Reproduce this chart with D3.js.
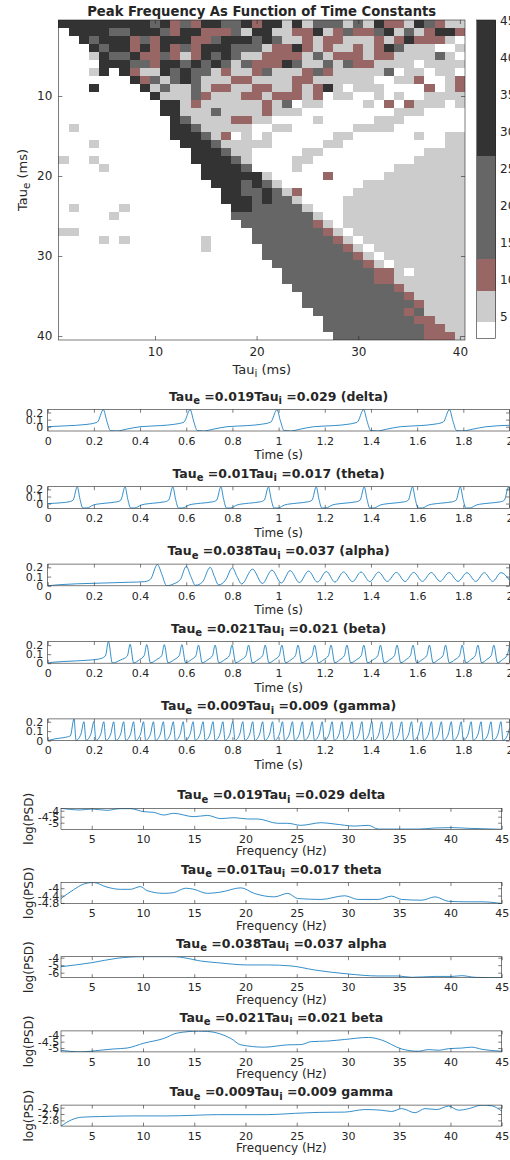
<!DOCTYPE html>
<html>
<head>
<meta charset="utf-8">
<script src="https://cdn.jsdelivr.net/npm/d3@7/dist/d3.min.js"></script>
<style>
  body { margin: 0; background: #fff; }
  svg text { font-family: "DejaVu Sans", sans-serif; fill: #262626; white-space: pre; }
</style>
</head>
<body>
<svg id="fig" width="510" height="1160"></svg>
<script>
// peak frequency band for each (tau_e row, tau_i column), 1..40 ms
// . = white (<4 Hz), l = light, r = red, m = mid grey, d = dark
// left part is columns 1-19, right part columns 20-40
var heatRows = [
  "dddddddddmdrmrddmmd" + "rddldlmmmlmldrrldmrll",
  ".ddddmmdddmrddrrrml" + "ddllrrdlrmrrmdlmlrddr",
  "..dmdddrmrdddrrmddd" + "mdmllrlrrlllrlrdrrrl.",
  "...dmddrdrdrmrdddmm" + "mlrrdrlrllrlrdmlll..l",
  "...ldmmdrrmrlrdmdml" + "lrrrrlmlrrrlrrllllml.",
  "....dddmmrddmdmdmlm" + "rrrdmllmlmrrllll.llll",
  "...ld.drlldmdmmlrll" + "rmlllrmrlllllm.ll.ll.",
  ".......drmlmdmlllrr" + "llllrrllllll..llr..lr",
  "...d....dlmllmlrrll" + "rrllrlrdl.lll....r.lr",
  ".........dlllmrlllr" + "rlrrrlr.ll..l.l..llll",
  "..........ddlrlllll" + "lrlm.ll....l.r.rlll.l",
  "..........ddlllmlll" + "lrlll.........lll....",
  "...........dmllllrr" + "ll....l.....lll......",
  ".l.........ddmlllll" + "..ll......llll.......",
  "...........dddmlr.l" + ".l......ll......l..ll",
  "...l........dddmlll" + "ll.....ll..........ll",
  ".............dddmll" + ".....ll..........llll",
  "l..l.........ddddml" + "....ll..........lllll",
  "....l.........ddddm" + "....l.........lllllll",
  "..............ddddd" + "dl.....r.....llllllll",
  "...............dddm" + "dml........llllllllll",
  "................ddm" + "mdmlr.....lllllllllll",
  "................ddd" + "mdmml....llllllllllll",
  ".l....l..........dd" + "mmmmml...llllllllllll",
  ".....l...........mm" + "mmmmmml..llllllllllll",
  "..................m" + "mmmmmmrl.llllllllllll",
  "ll................." + "mmmmmmmrl.lllllllllll",
  "....l.l.......l...." + "mmmmmmmmrl.llllllllll",
  "..............l...." + ".mmmmmmmmrl.lllllllll",
  "..................." + ".mmmmmmmmmrl.llllllll",
  "..................." + "..mmmmmmmmmrl.lllllll",
  "..................." + "...mmmmmmmmmrrl.lllll",
  "..................." + "...mmmmmmmmmrrlllllll",
  "..................." + "....mmmmmmmmmmrllllll",
  "..................." + ".....mmmmmmmmmmrlllll",
  "..................." + ".....mmmmmmmmmmmrllll",
  "..................." + "......mmmmmmmmmrmllll",
  "..................." + ".......mmmmmmmmmrrlll",
  "..................." + ".......mmmmmmmmmmrrll",
  "..................." + "........mmmmmmmmmrrrl"
];
var bandCodes = ".lrmd";
var bandColors = ["#ffffff", "#cccccc", "#996666", "#666666", "#333333"];
var bandEdges = [2.1, 4.3, 8.5, 12.8, 26.7, 45.1];
var heatTicks = [10, 20, 30, 40];
var cbarTicks = [5, 10, 15, 20, 25, 30, 35, 40, 45];

// example simulations
var bandNames = ["delta", "theta", "alpha", "beta", "gamma"];
var tauE = ["0.019", "0.01", "0.038", "0.021", "0.009"];
var tauI = ["0.029", "0.017", "0.037", "0.021", "0.009"];
var timeTicks = [0, 0.2, 0.4, 0.6, 0.8, 1, 1.2, 1.4, 1.6, 1.8, 2];
var traceTicks = [0, 0.1, 0.2];
var traceYDomains = [[-0.06, 0.245], [-0.068, 0.238], [0, 0.235], [0, 0.24], [0, 0.23]];

var deltaTrace = [[0,0],[0.08,0.013],[0.17,0.033],[0.215,0.065],[0.241,0.24],[0.256,0.08],[0.272,-0.055],[0.3,-0.06],[0.34,-0.035],[0.4,0],
  [0.49,0.016],[0.55,0.035],[0.59,0.065],[0.617,0.24],[0.632,0.08],[0.648,-0.055],[0.676,-0.06],[0.716,-0.035],[0.776,0],
  [0.866,0.016],[0.926,0.035],[0.966,0.065],[0.993,0.24],[1.008,0.08],[1.024,-0.055],[1.052,-0.06],[1.092,-0.035],[1.152,0],
  [1.241,0.016],[1.301,0.035],[1.341,0.065],[1.368,0.24],[1.383,0.08],[1.399,-0.055],[1.427,-0.06],[1.467,-0.035],[1.527,0],
  [1.613,0.016],[1.673,0.035],[1.713,0.065],[1.74,0.24],[1.755,0.08],[1.771,-0.055],[1.799,-0.06],[1.839,-0.035],[1.899,0],[2,0.02]];

var thetaTrace = [[0,0],[0.06,0.012],[0.093,0.025],[0.11,0.05],[0.128,0.235],[0.14,0.06],[0.152,-0.062],[0.17,-0.062],[0.198,-0.02],[0.248,0.005],
  [0.3,0.025],[0.317,0.05],[0.335,0.235],[0.347,0.06],[0.359,-0.062],[0.377,-0.062],[0.405,-0.02],[0.455,0.005],
  [0.507,0.025],[0.524,0.05],[0.542,0.235],[0.554,0.06],[0.566,-0.062],[0.584,-0.062],[0.612,-0.02],[0.662,0.005],
  [0.715,0.025],[0.732,0.05],[0.75,0.235],[0.762,0.06],[0.774,-0.062],[0.792,-0.062],[0.82,-0.02],[0.87,0.005],
  [0.921,0.025],[0.938,0.05],[0.956,0.235],[0.968,0.06],[0.98,-0.062],[0.998,-0.062],[1.026,-0.02],[1.076,0.005],
  [1.128,0.025],[1.145,0.05],[1.163,0.235],[1.175,0.06],[1.187,-0.062],[1.205,-0.062],[1.233,-0.02],[1.283,0.005],
  [1.336,0.025],[1.353,0.05],[1.371,0.235],[1.383,0.06],[1.395,-0.062],[1.413,-0.062],[1.441,-0.02],[1.491,0.005],
  [1.545,0.025],[1.562,0.05],[1.58,0.235],[1.592,0.06],[1.604,-0.062],[1.622,-0.062],[1.65,-0.02],[1.7,0.005],
  [1.752,0.025],[1.769,0.05],[1.787,0.235],[1.799,0.06],[1.811,-0.062],[1.829,-0.062],[1.857,-0.02],[1.907,0.005],
  [1.961,0.025],[1.978,0.05],[1.996,0.235],[2,0.18]];

var alphaTrace = [[0,0],[0.05,0.012],[0.2,0.027],[0.35,0.038],[0.42,0.045],[0.445,0.07],[0.475,0.23],[0.495,0.12],[0.515,0],
  [0.545,0.02],[0.575,0.07],[0.6,0.21],[0.62,0.1],[0.64,0.005],[0.67,0.04],[0.704,0.2],[0.722,0.1],[0.74,0.01],
  [0.77,0.06],[0.8,0.195],[0.82,0.1],[0.84,0.02],[0.887,0.18],[0.93,0.025],[0.971,0.17],[1.012,0.03],[1.05,0.165],
  [1.09,0.035],[1.13,0.16],[1.168,0.04],[1.207,0.155],[1.244,0.04],[1.281,0.15],[1.32,0.045],[1.357,0.15],[1.395,0.045],
  [1.433,0.148],[1.471,0.047],[1.51,0.145],[1.548,0.047],[1.585,0.145],[1.623,0.048],[1.661,0.143],[1.7,0.048],
  [1.738,0.143],[1.777,0.048],[1.816,0.142],[1.854,0.048],[1.891,0.142],[1.927,0.048],[1.963,0.142],[2,0.06]];

var betaTrace = [[0,0],[0.02,0.01],[0.12,0.025],[0.22,0.045],[0.25,0.08],[0.263,0.24],[0.28,0.002],[0.315,0.035],[0.345,0.08],[0.357,0.21],
  [0.372,0.003],[0.398,0.04],[0.418,0.085],[0.429,0.205],[0.445,0.004],[0.472,0.04],[0.494,0.085],[0.505,0.205],[0.521,0.004],
  [0.548,0.04],[0.57,0.085],[0.581,0.205],[0.597,0.005],[0.622,0.04],[0.642,0.085],[0.653,0.2],[0.669,0.005],[0.694,0.04],
  [0.714,0.085],[0.725,0.2],[0.741,0.005],[0.767,0.04],[0.787,0.085],[0.798,0.2],[0.814,0.005],[0.839,0.04],[0.859,0.085],
  [0.87,0.2],[0.886,0.005],[0.911,0.04],[0.931,0.085],[0.942,0.2],[0.958,0.005],[0.983,0.04],[1.003,0.085],[1.014,0.2],
  [1.03,0.005],[1.054,0.04],[1.073,0.085],[1.084,0.2],[1.1,0.005],[1.125,0.04],[1.145,0.085],[1.156,0.2],[1.172,0.005],
  [1.196,0.04],[1.216,0.085],[1.227,0.2],[1.243,0.005],[1.266,0.04],[1.285,0.085],[1.296,0.2],[1.312,0.005],[1.338,0.04],
  [1.358,0.085],[1.369,0.2],[1.385,0.005],[1.41,0.04],[1.43,0.085],[1.441,0.2],[1.457,0.005],[1.482,0.04],[1.502,0.085],
  [1.513,0.2],[1.529,0.005],[1.552,0.04],[1.571,0.085],[1.582,0.2],[1.598,0.005],[1.622,0.04],[1.642,0.085],[1.653,0.2],
  [1.669,0.005],[1.692,0.04],[1.712,0.085],[1.723,0.2],[1.739,0.005],[1.764,0.04],[1.784,0.085],[1.795,0.2],[1.811,0.005],
  [1.833,0.04],[1.852,0.085],[1.863,0.2],[1.879,0.005],[1.901,0.04],[1.921,0.085],[1.932,0.2],[1.948,0.005],[1.97,0.04],
  [1.989,0.085],[2,0.19]];

var gammaTrace = [[0,0],[0.03,0.018],[0.07,0.032],[0.098,0.05],[0.114,0.23],[0.123,0.002],
  [0.144,0.07],[0.157,0.2],[0.166,0.002],[0.187,0.07],[0.2,0.2],[0.209,0.002],[0.23,0.07],[0.243,0.2],[0.252,0.002],
  [0.273,0.07],[0.286,0.2],[0.295,0.002],[0.316,0.07],[0.329,0.2],[0.338,0.002],[0.359,0.07],[0.372,0.2],[0.381,0.002],
  [0.402,0.07],[0.415,0.2],[0.424,0.002],[0.445,0.07],[0.458,0.2],[0.467,0.002],[0.488,0.07],[0.501,0.2],[0.51,0.002],
  [0.531,0.07],[0.544,0.2],[0.553,0.002],[0.574,0.07],[0.587,0.2],[0.596,0.002],[0.617,0.07],[0.63,0.2],[0.639,0.002],
  [0.66,0.07],[0.673,0.2],[0.682,0.002],[0.703,0.07],[0.716,0.2],[0.725,0.002],[0.746,0.07],[0.759,0.2],[0.768,0.002],
  [0.789,0.07],[0.802,0.2],[0.811,0.002],[0.832,0.07],[0.845,0.2],[0.854,0.002],[0.875,0.07],[0.888,0.2],[0.897,0.002],
  [0.918,0.07],[0.931,0.2],[0.94,0.002],[0.961,0.07],[0.974,0.2],[0.983,0.002],[1.004,0.07],[1.017,0.2],[1.026,0.002],
  [1.047,0.07],[1.06,0.2],[1.069,0.002],[1.09,0.07],[1.103,0.2],[1.112,0.002],[1.133,0.07],[1.146,0.2],[1.155,0.002],
  [1.176,0.07],[1.189,0.2],[1.198,0.002],[1.219,0.07],[1.232,0.2],[1.241,0.002],[1.262,0.07],[1.275,0.2],[1.284,0.002],
  [1.305,0.07],[1.318,0.2],[1.327,0.002],[1.348,0.07],[1.361,0.2],[1.37,0.002],[1.391,0.07],[1.404,0.2],[1.413,0.002],
  [1.434,0.07],[1.447,0.2],[1.456,0.002],[1.477,0.07],[1.49,0.2],[1.499,0.002],[1.52,0.07],[1.533,0.2],[1.542,0.002],
  [1.563,0.07],[1.576,0.2],[1.585,0.002],[1.606,0.07],[1.619,0.2],[1.628,0.002],[1.649,0.07],[1.662,0.2],[1.671,0.002],
  [1.692,0.07],[1.705,0.2],[1.714,0.002],[1.735,0.07],[1.748,0.2],[1.757,0.002],[1.778,0.07],[1.791,0.2],[1.8,0.002],
  [1.821,0.07],[1.834,0.2],[1.843,0.002],[1.864,0.07],[1.877,0.2],[1.886,0.002],[1.907,0.07],[1.92,0.2],[1.929,0.002],
  [1.95,0.07],[1.963,0.2],[1.972,0.002],[1.993,0.07],[2,0.13]];

// power spectra, log(PSD) against frequency (Hz)
var freqTicks = [5, 10, 15, 20, 25, 30, 35, 40, 45];
var psdYDomains = [[-5.55, -3.8], [-4.83, -3.69], [-6.67, -3.87], [-5.3, -3.66], [-2.89, -2.56]];
var psdYTicks = [[-5, -4.5, -4], [-4.8, -4.4, -4], [-6, -5, -4], [-5, -4.5, -4], [-2.8, -2.7, -2.6]];

var psdDelta = [[2,-3.8],[3.86,-3.94],[5,-3.86],[6.48,-3.97],[7.78,-3.83],[8.76,-3.83],[10.07,-4.08],[11.05,-4.14],
  [12.03,-4.36],[13,-4.22],[14.97,-4.5],[16.28,-4.39],[17.59,-4.66],[18.9,-4.58],[20.2,-4.69],[21.19,-4.69],
  [23.15,-5.05],[24.13,-5.05],[25.4,-5.22],[27.4,-5.0],[28.7,-5.11],[30.66,-5.28],[32,-5.22],[32.95,-5.53],
  [36.87,-5.53],[38.5,-5.44],[40.14,-5.41],[41.8,-5.47],[45,-5.55]];
var psdTheta = [[2,-4.56],[3.21,-4.09],[4.19,-3.78],[5.17,-3.69],[6.48,-3.94],[7.78,-4.06],[8.76,-4.06],[9.75,-3.91],
  [10.4,-4.13],[12.03,-4.28],[13,-4.24],[14.16,-4.0],[14.97,-4.06],[16.28,-4.28],[17.59,-4.21],[19.55,-3.98],
  [20.85,-4.28],[22.81,-4.47],[24.13,-4.28],[25.1,-4.56],[27.4,-4.61],[29.68,-4.41],[30.99,-4.61],[32.95,-4.61],
  [34.25,-4.43],[35.24,-4.61],[37.2,-4.65],[38.5,-4.47],[39.81,-4.71],[41.8,-4.74],[43.08,-4.74],[45,-4.83]];
var psdAlpha = [[2,-5.2],[5,-4.67],[7.46,-4.08],[10.07,-3.87],[13,-3.87],[14.3,-4.08],[15.6,-4.44],[17.27,-4.67],
  [20.2,-4.97],[22.17,-4.97],[24.45,-5.1],[26.74,-5.64],[30,-6.17],[32.95,-6.44],[34.9,-6.44],[36.2,-6.62],
  [38.5,-6.5],[40.14,-6.5],[41.1,-6.4],[42.4,-6.62],[44,-6.67],[45,-6.67]];
var psdBeta = [[2,-5.17],[3.86,-5.3],[5.83,-5.17],[7.13,-5.07],[8.44,-5.0],[10.07,-4.62],[12.03,-4.25],[13.33,-3.83],
  [15.45,-3.68],[16.28,-3.7],[18.57,-4.25],[19.55,-4.75],[21.83,-4.93],[24.13,-4.75],[25.4,-4.73],[26.41,-4.5],
  [28.05,-4.45],[29.68,-4.33],[32,-4.17],[33.27,-4.37],[35.24,-5.07],[36.87,-5.25],[37.85,-5.12],[38.83,-5.17],
  [39.81,-5.05],[41.1,-5.0],[42.08,-4.93],[43.08,-5.1],[45,-5.25]];
var psdGamma = [[2,-2.89],[3.05,-2.79],[4.03,-2.75],[5.83,-2.74],[9.09,-2.73],[12.36,-2.73],[14.97,-2.72],[17.27,-2.71],
  [22.17,-2.71],[24.78,-2.69],[27.07,-2.675],[29.68,-2.67],[31.65,-2.63],[33.27,-2.64],[34.25,-2.66],[35.24,-2.615],
  [36.54,-2.68],[37.52,-2.615],[38.67,-2.63],[39.81,-2.575],[40.79,-2.64],[41.8,-2.615],[43.08,-2.56],[44,-2.57],[45,-2.655]];

var traces = [deltaTrace, thetaTrace, alphaTrace, betaTrace, gammaTrace];
var spectra = [psdDelta, psdTheta, psdAlpha, psdBeta, psdGamma];

var svg = d3.select("#fig");
var ink = "#262626";
var lineBlue = "#0072bd";
var clipCount = 0;
var num = function(d) { return String(d); };

function drawAxes(b, x, y, xt, yt, o) {
  var g = svg.append("g").attr("color", ink).attr("font-size", o.fs);
  g.append("g").attr("transform", "translate(0," + b.b + ")")
    .call(d3.axisBottom(x).tickValues(xt).tickSize(-o.tick).tickPadding(o.xpad).tickFormat(num));
  g.append("g").attr("transform", "translate(0," + b.t + ")")
    .call(d3.axisTop(x).tickValues(xt).tickSize(-o.tick).tickFormat(""));
  g.append("g").attr("transform", "translate(" + b.l + ",0)")
    .call(d3.axisLeft(y).tickValues(yt).tickSize(-o.tick).tickPadding(o.ypad).tickFormat(num));
  g.append("g").attr("transform", "translate(" + b.r + ",0)")
    .call(d3.axisRight(y).tickValues(yt).tickSize(-o.tick).tickFormat(""));
  g.selectAll(".domain").remove();
  g.selectAll("g").attr("font-size", null).attr("font-family", null);
  g.selectAll(".tick line").attr("stroke-width", 0.6);
  g.append("rect").attr("x", b.l).attr("y", b.t)
    .attr("width", b.r - b.l).attr("height", b.b - b.t)
    .attr("fill", "none").attr("stroke", ink).attr("stroke-width", 0.6);
}

function drawLine(b, x, y, data) {
  var id = "clip" + (clipCount++);
  svg.append("clipPath").attr("id", id).append("rect")
    .attr("x", b.l).attr("y", b.t).attr("width", b.r - b.l).attr("height", b.b - b.t);
  svg.append("path").datum(data)
    .attr("clip-path", "url(#" + id + ")")
    .attr("fill", "none").attr("stroke", lineBlue).attr("stroke-width", 0.8)
    .attr("d", d3.line()
      .x(function(d) { return x(d[0]); })
      .y(function(d) { return y(d[1]); })
      .curve(d3.curveMonotoneX));
}

// text with subscripts: parts = [[text, isSub], ...]
function subText(sel, parts, fs) {
  parts.forEach(function(p, k) {
    var prevSub = k > 0 && parts[k - 1][1];
    var dy = p[1] ? 3.5 : (prevSub ? -3.5 : 0);
    var t = sel.append("tspan").attr("dy", dy).text(p[0]);
    if (p[1]) t.attr("font-size", fs * 0.8);
  });
}

function tauTitle(xc, yb, e, i, tail) {
  var t = svg.append("text").attr("x", xc).attr("y", yb)
    .attr("text-anchor", "middle").attr("font-weight", "bold").attr("font-size", 12.5);
  subText(t, [["Tau", false], ["e", true], [" =" + e + "Tau", false], ["i", true], [" =" + i + tail, false]], 12.5);
}

// ---------- heat map ----------
var hb = { l: 58.4, r: 465, t: 20, b: 340 };
var hx = d3.scaleLinear().domain([0.5, 40.5]).range([hb.l, hb.r]);
var hy = d3.scaleLinear().domain([0.5, 40.5]).range([hb.t, hb.b]);
var bandColor = d3.scaleOrdinal().domain(d3.range(bandColors.length)).range(bandColors);

var cells = [];
heatRows.forEach(function(row, i) {
  row.split("").forEach(function(ch, j) {
    cells.push({ r: i + 1, c: j + 1, band: bandCodes.indexOf(ch) });
  });
});

svg.append("g").selectAll("rect").data(cells).enter().append("rect")
  .attr("x", function(d) { return hx(d.c - 0.5); })
  .attr("y", function(d) { return hy(d.r - 0.5); })
  .attr("width", function(d) { return hx(d.c + 0.5) - hx(d.c - 0.5); })
  .attr("height", function(d) { return hy(d.r + 0.5) - hy(d.r - 0.5); })
  .attr("fill", function(d) { return bandColor(d.band); })
  .attr("shape-rendering", "crispEdges");

drawAxes(hb, hx, hy, heatTicks, heatTicks, { fs: 12, tick: 4, xpad: 7, ypad: 6 });

svg.append("text").attr("x", (hb.l + hb.r) / 2).attr("y", 15.5)
  .attr("text-anchor", "middle").attr("font-weight", "bold").attr("font-size", 13.2)
  .text("Peak Frequency As Function of Time Constants");

var xl = svg.append("text").attr("x", (hb.l + hb.r) / 2).attr("y", 373.5)
  .attr("text-anchor", "middle").attr("font-size", 13);
subText(xl, [["Tau", false], ["i", true], [" (ms)", false]], 13);

var yl = svg.append("text").attr("transform", "translate(26.7," + (hb.t + hb.b) / 2 + ") rotate(-90)")
  .attr("text-anchor", "middle").attr("font-size", 13);
subText(yl, [["Tau", false], ["e", true], [" (ms)", false]], 13);

// colour bar
var cb = { l: 476.5, r: 495.5, t: 20, b: 338.5 };
var cy = d3.scaleLinear().domain([bandEdges[0], bandEdges[bandEdges.length - 1]]).range([cb.b, cb.t]);
svg.append("g").selectAll("rect").data(d3.range(bandColors.length)).enter().append("rect")
  .attr("x", cb.l).attr("width", cb.r - cb.l)
  .attr("y", function(i) { return cy(bandEdges[i + 1]); })
  .attr("height", function(i) { return cy(bandEdges[i]) - cy(bandEdges[i + 1]); })
  .attr("fill", function(i) { return bandColors[i]; })
  .attr("shape-rendering", "crispEdges");
svg.append("rect").attr("x", cb.l).attr("y", cb.t).attr("width", cb.r - cb.l).attr("height", cb.b - cb.t)
  .attr("fill", "none").attr("stroke", ink).attr("stroke-width", 0.6);
var cbAxis = svg.append("g").attr("transform", "translate(" + cb.r + ",0)")
  .call(d3.axisRight(cy).tickValues(cbarTicks).tickSize(0).tickPadding(4.5).tickFormat(num));
cbAxis.select(".domain").remove();
cbAxis.attr("font-family", null).attr("font-size", 12).attr("color", ink);

// ---------- time traces ----------
traces.forEach(function(data, k) {
  var top = 409.3 + k * 77.4;
  var b = { l: 47.7, r: 509.5, t: top, b: top + 21.7 };
  var x = d3.scaleLinear().domain([0, 2]).range([b.l, b.r]);
  var y = d3.scaleLinear().domain(traceYDomains[k]).range([b.b, b.t]);
  drawLine(b, x, y, data);
  drawAxes(b, x, y, timeTicks, traceTicks, { fs: 11, tick: 3.5, xpad: 6, ypad: 4.4 });
  tauTitle((b.l + b.r) / 2, b.t - 8.8, tauE[k], tauI[k], " (" + bandNames[k] + ")");
  svg.append("text").attr("x", (b.l + b.r) / 2).attr("y", b.b + 28.3)
    .attr("text-anchor", "middle").attr("font-size", 12).text("Time (s)");
});

// ---------- spectra ----------
spectra.forEach(function(data, k) {
  var top = 808.3 + k * 74.2;
  var b = { l: 61, r: 501.7, t: top, b: top + 21 };
  var x = d3.scaleLinear().domain([2, 45]).range([b.l, b.r]);
  var y = d3.scaleLinear().domain(psdYDomains[k]).range([b.b, b.t]);
  drawLine(b, x, y, data);
  drawAxes(b, x, y, freqTicks, psdYTicks[k], { fs: 11, tick: 3.5, xpad: 6, ypad: 1.8 });
  tauTitle((b.l + b.r) / 2, b.t - 9, tauE[k], tauI[k], " " + bandNames[k]);
  svg.append("text").attr("x", (b.l + b.r) / 2).attr("y", b.b + 26)
    .attr("text-anchor", "middle").attr("font-size", 12).text("Frequency (Hz)");
  svg.append("text").attr("transform", "translate(33.3," + (b.t + b.b) / 2 + ") rotate(-90)")
    .attr("text-anchor", "middle").attr("font-size", 12).text("log(PSD)");
});
</script>
</body>
</html>
